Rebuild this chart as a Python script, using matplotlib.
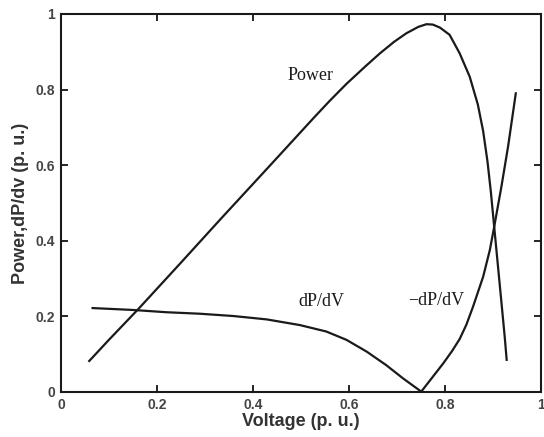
import matplotlib
matplotlib.use("Agg")
import matplotlib.pyplot as plt

# Power curve
power_v = [0.059, 0.10, 0.161, 0.25, 0.331, 0.44, 0.526, 0.560, 0.595, 0.635, 0.665, 0.695,
           0.720, 0.745, 0.762, 0.775, 0.790, 0.810, 0.831, 0.852, 0.869, 0.880, 0.889,
           0.896, 0.903, 0.911, 0.919, 0.925, 0.929]
power_p = [0.082, 0.138, 0.219, 0.342, 0.455, 0.605, 0.724, 0.770, 0.815, 0.862, 0.896, 0.927,
           0.949, 0.966, 0.973, 0.972, 0.964, 0.945, 0.896, 0.834, 0.760, 0.690, 0.610,
           0.530, 0.437, 0.331, 0.225, 0.145, 0.085]

# dP/dV branch (left of maximum power point)
dpdv_v = [0.066, 0.15, 0.22, 0.290, 0.359, 0.429, 0.498, 0.553, 0.595, 0.637, 0.678, 0.713, 0.751]
dpdv_y = [0.222, 0.217, 0.211, 0.207, 0.201, 0.192, 0.177, 0.160, 0.138, 0.107, 0.071, 0.036, 0.001]

# -dP/dV branch (right of maximum power point)
ndpdv_v = [0.751, 0.797, 0.815, 0.831, 0.845, 0.859, 0.880, 0.894, 0.903, 0.918, 0.932, 0.948]
ndpdv_y = [0.001, 0.076, 0.108, 0.140, 0.178, 0.226, 0.305, 0.376, 0.437, 0.543, 0.650, 0.790]

xticks = [0, 0.2, 0.4, 0.6, 0.8, 1]
xtick_labels = ["0", "0.2", "0.4", "0.6", "0.8", "1"]
yticks = [0, 0.2, 0.4, 0.6, 0.8, 1]
ytick_labels = ["0", "0.2", "0.4", "0.6", "0.8", "1"]

fig = plt.figure(figsize=(5.44, 4.37), dpi=100)
ax = fig.add_axes([0.112, 0.103, 0.882, 0.865])

lc = "#1a1a1a"
ax.plot(power_v, power_p, color=lc, lw=1.6, solid_joinstyle="round")
ax.plot(dpdv_v, dpdv_y, color=lc, lw=1.6, solid_joinstyle="round")
ax.plot(ndpdv_v, ndpdv_y, color=lc, lw=1.6, solid_joinstyle="round")

ax.set_xlim(0, 1)
ax.set_ylim(0, 1)
ax.set_xticks(xticks)
ax.set_xticklabels(xtick_labels)
ax.set_yticks(yticks)
ax.set_yticklabels(ytick_labels)

ax.tick_params(direction="in", length=5, width=1.2, top=True, right=True,
               labelsize=10, labelcolor="#444444", pad=4)
for lab in ax.get_xticklabels() + ax.get_yticklabels():
    lab.set_fontweight("bold")
    lab.set_family("Liberation Sans")
for s in ax.spines.values():
    s.set_linewidth(1.5)
    s.set_color("#1a1a1a")

ax.set_xlabel("Voltage (p. u.)", fontsize=13, fontweight="bold", color="#333333",
              family="Liberation Sans", labelpad=1)
ax.set_ylabel("Power,dP/dv (p. u.)", fontsize=13, fontweight="bold", color="#333333",
              family="Liberation Sans", labelpad=5)

serif = dict(family="Liberation Serif", fontsize=13, color="#1a1a1a", ha="center", va="center")
ax.text(0.52, 0.836, "Power", **serif)
ax.text(0.543, 0.239, "dP/dV", **serif)
ax.text(0.783, 0.243, "\u2212dP/dV", **serif)

fig.savefig("out.png", dpi=100)
